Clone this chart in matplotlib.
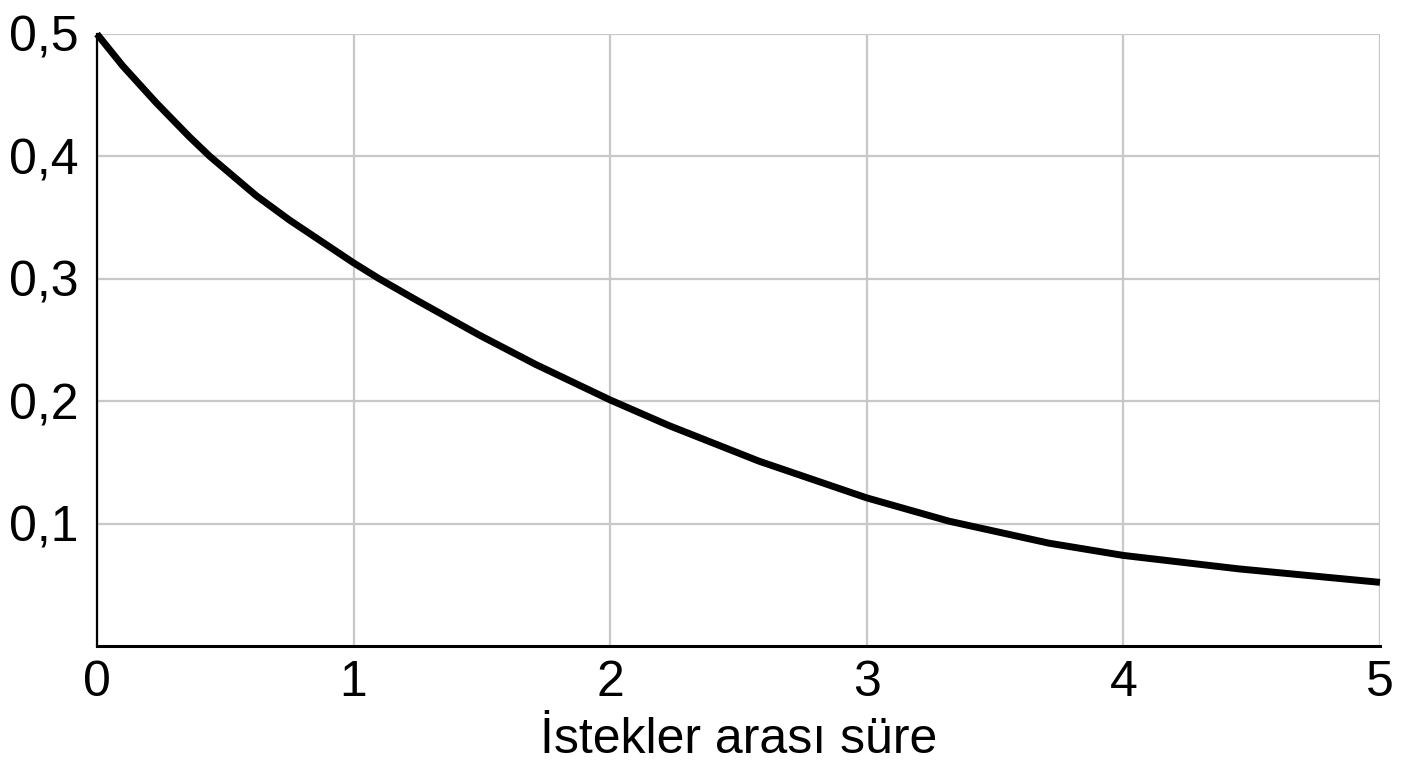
import matplotlib.pyplot as plt
from matplotlib.ticker import FuncFormatter

plt.rcParams['font.family'] = ['Liberation Sans', 'DejaVu Sans']

# değerler
sure = [0, 0.1, 0.23, 0.36, 0.44, 0.62, 0.75, 1.0, 1.1, 1.25, 1.49, 1.71,
        2.0, 2.23, 2.58, 3.0, 3.32, 3.71, 4.0, 4.45, 5.0]
olasilik = [0.500, 0.474, 0.444, 0.416, 0.400, 0.368, 0.348, 0.313, 0.300, 0.282, 0.254, 0.230,
            0.201, 0.180, 0.151, 0.121, 0.102, 0.084, 0.074, 0.063, 0.052]
x_ticks = [0, 1, 2, 3, 4, 5]
y_ticks = [0.1, 0.2, 0.3, 0.4, 0.5]
x_label = 'İstekler arası süre'

fig = plt.figure(figsize=(14.08, 7.68), dpi=100)
ax = fig.add_axes([97 / 1408, 122 / 768, 1283 / 1408, 612 / 768])

ax.plot(sure, olasilik, color='black', lw=5, solid_capstyle='butt',
        solid_joinstyle='round', clip_on=False, zorder=3)

ax.set_xlim(0, 5)
ax.set_ylim(0, 0.5)
ax.set_xticks(x_ticks)
ax.set_yticks(y_ticks)
ax.yaxis.set_major_formatter(FuncFormatter(lambda v, p: f'{v:.1f}'.replace('.', ',')))
ax.tick_params(length=0, labelsize=36)
ax.tick_params(axis='x', pad=10)
ax.tick_params(axis='y', pad=13)
ax.grid(True, color='#c8c8c8', lw=1.6)
ax.set_axisbelow(True)

for s in ['top', 'right']:
    ax.spines[s].set_visible(False)
ax.spines['left'].set_linewidth(1.6)
ax.spines['bottom'].set_linewidth(2.2)
ax.spines['left'].set_zorder(4)
ax.spines['bottom'].set_zorder(4)

ax.set_xlabel(x_label, fontsize=36, labelpad=8)

fig.savefig('out.png', dpi=100, facecolor='white')
